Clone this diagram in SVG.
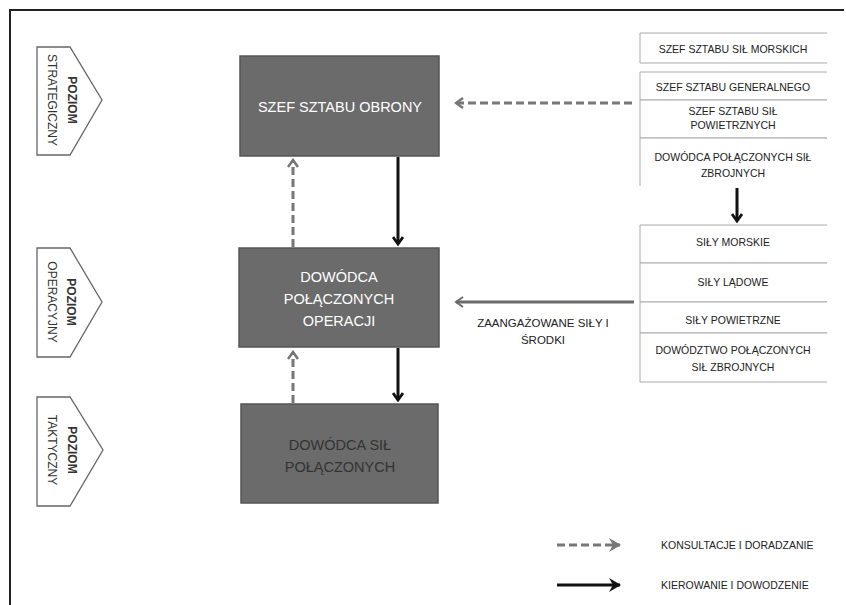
<svg xmlns="http://www.w3.org/2000/svg" width="846" height="605" viewBox="0 0 846 605">
  <style>
    .frame { fill: none; stroke: #222; stroke-width: 2; }
    .level path { fill: #fff; stroke: #666; stroke-width: 1.3; }
    .level text { font-family: "Liberation Sans", Arial, sans-serif; font-size: 12px; fill: #333; text-anchor: middle; dominant-baseline: central; }
    .level text.b { font-weight: bold; }
    .main rect { fill: #6b6b6b; stroke: #555; stroke-width: 1.5; }
    .main text { font-family: "Liberation Sans", Arial, sans-serif; font-size: 14.5px; fill: #fff; text-anchor: middle; dominant-baseline: central; }
    .main.dark text { fill: #333; }
    .cell path { fill: #fff; stroke: #aaa; stroke-width: 1; }
    .cell text { font-family: "Liberation Sans", Arial, sans-serif; font-size: 10.5px; fill: #222; text-anchor: middle; dominant-baseline: central; }
    .lbl { font-family: "Liberation Sans", Arial, sans-serif; font-size: 11.5px; fill: #222; text-anchor: middle; dominant-baseline: central; }
    .legend text { font-family: "Liberation Sans", Arial, sans-serif; font-size: 10.5px; fill: #222; dominant-baseline: central; }
    .consult { fill: none; stroke: #777; stroke-width: 3; stroke-dasharray: 8 4; }
    .command { fill: none; stroke: #111; stroke-width: 3; }
    .forces { fill: none; stroke: #6b6b6b; stroke-width: 3; }
  </style>
  <defs>
    <marker id="headGray" viewBox="0 0 10 12" refX="8" refY="6" markerWidth="10" markerHeight="12" markerUnits="userSpaceOnUse" orient="auto">
      <path d="M1,1 L8,6 L1,11" fill="none" stroke="#777" stroke-width="2.5"/>
    </marker>
    <marker id="headBlack" viewBox="0 0 10 12" refX="8" refY="6" markerWidth="10" markerHeight="12" markerUnits="userSpaceOnUse" orient="auto">
      <path d="M1,1 L8,6 L1,11" fill="none" stroke="#111" stroke-width="2.8"/>
    </marker>
    <marker id="headForces" viewBox="0 0 10 12" refX="8" refY="6" markerWidth="10" markerHeight="12" markerUnits="userSpaceOnUse" orient="auto">
      <path d="M1,1 L8,6 L1,11" fill="none" stroke="#6b6b6b" stroke-width="2"/>
    </marker>
    <marker id="headGrayFill" viewBox="0 0 12 14" refX="11" refY="7" markerWidth="12" markerHeight="14" markerUnits="userSpaceOnUse" orient="auto">
      <path d="M0,0 L12,7 L0,14 L4,7 Z" fill="#777"/>
    </marker>
    <marker id="headBlackFill" viewBox="0 0 12 14" refX="11" refY="7" markerWidth="12" markerHeight="14" markerUnits="userSpaceOnUse" orient="auto">
      <path d="M0,0 L12,7 L0,14 L4,7 Z" fill="#111"/>
    </marker>
  </defs>

  <rect width="846" height="605" fill="#fff"/>
  <!-- outer frame: top and left edges -->
  <path class="frame" d="M10,605 L10,10 L844,10"/>

  <!-- level markers -->
  <g id="level-strategic" class="level">
    <path d="M37,47 L70,47 L102,100 L70,155 L37,155 Z"/>
    <g transform="translate(61,100) rotate(90)">
      <text class="b" x="0" y="-11">POZIOM</text>
      <text x="0" y="9">STRATEGICZNY</text>
    </g>
  </g>
  <g id="level-operational" class="level">
    <path d="M37,248 L70,248 L102,302 L70,357 L37,357 Z"/>
    <g transform="translate(61,302) rotate(90)">
      <text class="b" x="0" y="-10">POZIOM</text>
      <text x="0" y="9">OPERACYJNY</text>
    </g>
  </g>
  <g id="level-tactical" class="level">
    <path d="M37,397 L70,397 L103,450 L70,506 L37,506 Z"/>
    <g transform="translate(61,450) rotate(90)">
      <text class="b" x="0" y="-11">POZIOM</text>
      <text x="0" y="9">TAKTYCZNY</text>
    </g>
  </g>

  <!-- command chain -->
  <g id="chief-of-defence" class="main">
    <rect x="240" y="56" width="199" height="100"/>
    <text x="340" y="107">SZEF SZTABU OBRONY</text>
  </g>
  <g id="joint-ops-commander" class="main">
    <rect x="239" y="248" width="200" height="99"/>
    <text x="339" y="277">DOWÓDCA</text>
    <text x="339" y="299">POŁĄCZONYCH</text>
    <text x="339" y="321">OPERACJI</text>
  </g>
  <g id="joint-force-commander" class="main dark">
    <rect x="241" y="404" width="197" height="99"/>
    <text x="340" y="445">DOWÓDCA SIŁ</text>
    <text x="340" y="467">POŁĄCZONYCH</text>
  </g>

  <!-- national authorities -->
  <g id="authorities">
    <g id="navy-chief" class="cell">
      <path d="M827,33 L640,33 L640,63 L827,63"/>
      <text x="733" y="49">SZEF SZTABU SIŁ  MORSKICH</text>
    </g>
    <g id="general-staff-chief" class="cell">
      <path d="M827,72 L640,72 L640,100 L827,100"/>
      <text x="733" y="87">SZEF SZTABU GENERALNEGO</text>
    </g>
    <g id="air-force-chief" class="cell">
      <path d="M827,100 L640,100 L640,138 L827,138"/>
      <text x="733" y="111">SZEF SZTABU SIŁ</text>
      <text x="733" y="125">POWIETRZNYCH</text>
    </g>
    <g id="armed-forces-commander" class="cell">
      <path d="M827,138 L640,138 L640,186"/>
      <text x="733" y="157">DOWÓDCA POŁĄCZONYCH SIŁ</text>
      <text x="733" y="173">ZBROJNYCH</text>
    </g>
  </g>

  <!-- assigned forces -->
  <g id="forces">
    <g id="navy" class="cell">
      <path d="M827,225 L640,225 L640,263 L827,263"/>
      <text x="733" y="242">SIŁY  MORSKIE</text>
    </g>
    <g id="land-forces" class="cell">
      <path d="M827,263 L640,263 L640,302 L827,302"/>
      <text x="733" y="282">SIŁY LĄDOWE</text>
    </g>
    <g id="air-forces" class="cell">
      <path d="M827,302 L640,302 L640,333 L827,333"/>
      <text x="733" y="320">SIŁY  POWIETRZNE</text>
    </g>
    <g id="armed-forces-command" class="cell">
      <path d="M827,333 L640,333 L640,382 L827,382"/>
      <text x="733" y="350">DOWÓDZTWO POŁĄCZONYCH</text>
      <text x="733" y="367">SIŁ ZBROJNYCH</text>
    </g>
  </g>

  <!-- connectors -->
  <g id="connectors">
    <path class="consult" d="M293,247 L293,160" marker-end="url(#headGray)"/>
    <path class="command" d="M398,157 L398,244" marker-end="url(#headBlack)"/>
    <path class="consult" d="M293,403 L293,352" marker-end="url(#headGray)"/>
    <path class="command" d="M398,348 L398,400" marker-end="url(#headBlack)"/>
    <path class="consult" d="M632,103 L456,103" marker-end="url(#headGray)"/>
    <path class="forces" d="M634,302 L456,302" marker-end="url(#headForces)"/>
    <path class="command" d="M737,188 L737,221" marker-end="url(#headBlack)"/>
    <text class="lbl" x="543" y="323">ZAANGAŻOWANE SIŁY I</text>
    <text class="lbl" x="543" y="340">ŚRODKI</text>
  </g>

  <!-- legend -->
  <g id="legend" class="legend">
    <path class="consult" d="M557,545 L620,545" marker-end="url(#headGrayFill)"/>
    <text x="661" y="545">KONSULTACJE I DORADZANIE</text>
    <path class="command" d="M557,585 L620,585" marker-end="url(#headBlackFill)"/>
    <text x="661" y="585">KIEROWANIE I DOWODZENIE</text>
  </g>
</svg>
